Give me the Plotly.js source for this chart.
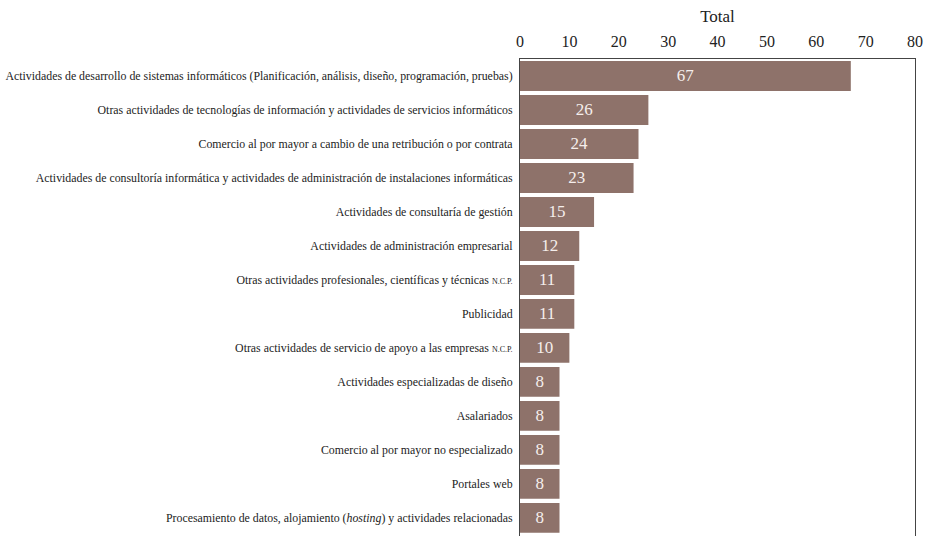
<!DOCTYPE html>
<html>
<head>
<meta charset="utf-8">
<script src="https://cdn.plot.ly/plotly-3.0.1.min.js"></script>
<style>
html,body{margin:0;padding:0;overflow:hidden;background:#fff;}
#chart{width:925px;height:560px;}
</style>
</head>
<body>
<div id="chart"></div>
<script>
const categories = [
  "Actividades de desarrollo de sistemas informáticos (Planificación, análisis, diseño, programación, pruebas)",
  "Otras actividades de tecnologías de información y actividades de servicios informáticos",
  "Comercio al por mayor a cambio de una retribución o por contrata",
  "Actividades de consultoría informática y actividades de administración de instalaciones informáticas",
  "Actividades de consultaría de gestión",
  "Actividades de administración empresarial",
  "Otras actividades profesionales, científicas y técnicas <span style=\"font-size:8px\">N.C.P.</span>",
  "Publicidad",
  "Otras actividades de servicio de apoyo a las empresas <span style=\"font-size:8px\">N.C.P.</span>",
  "Actividades especializadas de diseño",
  "Asalariados",
  "Comercio al por mayor no especializado",
  "Portales web",
  "Procesamiento de datos, alojamiento (<i>hosting</i>) y actividades relacionadas"
];
const totals = [67, 26, 24, 23, 15, 12, 11, 11, 10, 8, 8, 8, 8, 8];
const xTicks = [0, 10, 20, 30, 40, 50, 60, 70, 80];

const serif = "'Liberation Serif', 'Times New Roman', serif";

const trace = {
  type: "bar",
  orientation: "h",
  y: categories.map((c, i) => i),
  x: totals,
  text: totals.map(String),
  textposition: "inside",
  insidetextanchor: "middle",
  textangle: 0,
  textfont: {family: serif, size: 17, color: "#f5eeec"},
  marker: {color: "#8e726a", line: {width: 0}},
  hoverinfo: "none",
  cliponaxis: true
};

const layout = {
  width: 925,
  height: 560,
  margin: {l: 520, r: 10, t: 59, b: 0, pad: 0},
  paper_bgcolor: "#ffffff",
  plot_bgcolor: "#ffffff",
  showlegend: false,
  bargap: 0.12,
  font: {family: serif, color: "#222"},
  xaxis: {
    side: "top",
    range: [0, 80],
    tickvals: xTicks,
    ticktext: xTicks.map(String),
    tickfont: {family: serif, size: 16, color: "#222"},
    ticks: "outside",
    ticklen: 5,
    tickcolor: "rgba(0,0,0,0)",
    showgrid: false,
    zeroline: false,
    showline: true,
    linecolor: "#444",
    linewidth: 1,
    mirror: true,
    title: {text: "Total", font: {family: serif, size: 17, color: "#222"}, standoff: 5},
    fixedrange: true
  },
  yaxis: {
    range: [14.24, -0.5],
    tickvals: categories.map((c, i) => i),
    ticktext: categories,
    tickfont: {family: serif, size: 11.85, color: "#222"},
    ticks: "",
    showgrid: false,
    zeroline: false,
    showline: true,
    linecolor: "#444",
    linewidth: 1,
    mirror: true,
    ticklabelstandoff: 4,
    fixedrange: true
  }
};

Plotly.newPlot("chart", [trace], layout, {displayModeBar: false, staticPlot: true});
</script>
</body>
</html>
